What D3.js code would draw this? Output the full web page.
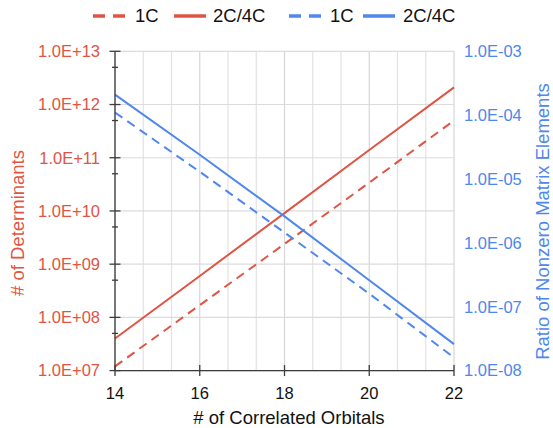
<!DOCTYPE html>
<html>
<head>
<meta charset="utf-8">
<script src="https://cdn.jsdelivr.net/npm/d3@7"></script>
<style>
  html, body { margin: 0; padding: 0; background: #fff; }
  svg { display: block; font-family: "Liberation Sans", Arial, sans-serif; }
</style>
</head>
<body>
<svg id="chart" width="553" height="428"></svg>
<script>
// Active space size (number of correlated orbitals)
const orbitals = [14, 16, 18, 20, 22];

// Number of determinants (left axis)
const det1C    = [1.2e7, 1.7e8, 2.4e9, 3.4e10, 5.0e11];
const det2C4C  = [4.0e7, 6.0e8, 9.1e9, 1.4e11, 2.1e12];

// Ratio of nonzero Hamiltonian matrix elements (right axis)
const ratio1C   = [1.1e-4, 1.3e-5, 1.45e-6, 1.6e-7, 1.6e-8];
const ratio2C4C = [2.1e-4, 2.4e-5, 2.6e-6, 2.6e-7, 2.6e-8];

// Tick values and labels
const xTicks = [14, 16, 18, 20, 22];
const leftTicks = [1e7, 1e8, 1e9, 1e10, 1e11, 1e12, 1e13];
const leftTickLabels = ["1.0E+07", "1.0E+08", "1.0E+09", "1.0E+10", "1.0E+11", "1.0E+12", "1.0E+13"];
const rightTicks = [1e-8, 1e-7, 1e-6, 1e-5, 1e-4, 1e-3];
const rightTickLabels = ["1.0E-08", "1.0E-07", "1.0E-06", "1.0E-05", "1.0E-04", "1.0E-03"];

const legendLabels = ["1C", "2C/4C", "1C", "2C/4C"];

const RED = "#df5443";
const BLUE = "#4f87ec";
const AXIS = "#3c3c3c";
const GRID = "#e2e2e2";

const svg = d3.select("#chart");
const plotLeft = 115, plotRight = 454, plotTop = 51.3, plotBottom = 370.6;

const x = d3.scaleLinear().domain([14, 22]).range([plotLeft, plotRight]);
const yL = d3.scaleLog().domain([1e7, 1e13]).range([plotBottom, plotTop]);
const yR = d3.scaleLog().domain([1e-8, 1e-3]).range([plotBottom, plotTop]);

// Vertical gridlines every 2/3 of a unit
const gridX = d3.range(0, 13).map(i => 14 + i * 8 / 12);
svg.append("g").selectAll("line").data(gridX).join("line")
  .attr("x1", d => x(d)).attr("x2", d => x(d))
  .attr("y1", plotTop).attr("y2", plotBottom)
  .attr("stroke", (d, i) => i % 3 === 0 ? "#d6d6d6" : GRID)
  .attr("stroke-width", 1.2);

// Horizontal gridlines at each decade
svg.append("g").selectAll("line").data(leftTicks).join("line")
  .attr("x1", plotLeft).attr("x2", plotRight)
  .attr("y1", d => yL(d)).attr("y2", d => yL(d))
  .attr("stroke", "#dcdcdc").attr("stroke-width", 1.2);

// Series
const series = [
  { vals: det1C, y: yL, color: RED, dash: "9,6" },
  { vals: det2C4C, y: yL, color: RED, dash: null },
  { vals: ratio1C, y: yR, color: BLUE, dash: "9,6" },
  { vals: ratio2C4C, y: yR, color: BLUE, dash: null }
];
series.forEach(s => {
  const line = d3.line().x((d, i) => x(orbitals[i])).y(d => s.y(d));
  svg.append("path")
    .attr("d", line(s.vals))
    .attr("fill", "none")
    .attr("stroke", s.color)
    .attr("stroke-width", 2)
    .attr("stroke-dasharray", s.dash);
});

// Left axis line and ticks (crossing the spine)
svg.append("line").attr("x1", plotLeft).attr("x2", plotLeft).attr("y1", plotTop).attr("y2", plotBottom)
  .attr("stroke", AXIS).attr("stroke-width", 1.3);
svg.append("g").selectAll("line").data(leftTicks).join("line")
  .attr("x1", plotLeft - 5.5).attr("x2", plotLeft + 5.5)
  .attr("y1", d => yL(d)).attr("y2", d => yL(d))
  .attr("stroke", AXIS).attr("stroke-width", 1.3);
const minorTicks = leftTicks.slice(0, -1).map(d => d * 5);
svg.append("g").selectAll("line").data(minorTicks).join("line")
  .attr("x1", plotLeft - 3).attr("x2", plotLeft + 3)
  .attr("y1", d => yL(d)).attr("y2", d => yL(d))
  .attr("stroke", AXIS).attr("stroke-width", 1.3);

// Bottom axis line and ticks
svg.append("line").attr("x1", plotLeft).attr("x2", plotRight).attr("y1", plotBottom).attr("y2", plotBottom)
  .attr("stroke", AXIS).attr("stroke-width", 1.3);
svg.append("g").selectAll("line").data(xTicks).join("line")
  .attr("x1", d => x(d)).attr("x2", d => x(d))
  .attr("y1", plotBottom - 5.5).attr("y2", plotBottom + 5.5)
  .attr("stroke", AXIS).attr("stroke-width", 1.3);

// Tick labels
svg.append("g").selectAll("text").data(leftTicks).join("text")
  .attr("x", 100).attr("y", d => yL(d)).attr("dy", "0.35em")
  .attr("text-anchor", "end").attr("fill", RED).attr("font-size", 16.5)
  .text((d, i) => leftTickLabels[i]);
svg.append("g").selectAll("text").data(rightTicks).join("text")
  .attr("x", 464).attr("y", d => yR(d)).attr("dy", "0.35em")
  .attr("text-anchor", "start").attr("fill", BLUE).attr("font-size", 16.5)
  .text((d, i) => rightTickLabels[i]);
svg.append("g").selectAll("text").data(xTicks).join("text")
  .attr("x", d => x(d)).attr("y", 393.5).attr("dy", "0.35em")
  .attr("text-anchor", "middle").attr("fill", "#111").attr("font-size", 16.5)
  .text(d => d);

// Axis titles
svg.append("text").attr("x", 289).attr("y", 417.5).attr("dy", "0.35em")
  .attr("text-anchor", "middle").attr("fill", "#111").attr("font-size", 18.5)
  .text("# of Correlated Orbitals");
svg.append("text")
  .attr("transform", "translate(17.5,223) rotate(-90)")
  .attr("dy", "0.35em").attr("text-anchor", "middle")
  .attr("fill", RED).attr("font-size", 18.5)
  .text("# of Determinants");
svg.append("text")
  .attr("transform", "translate(542.5,221.5) rotate(-90)")
  .attr("dy", "0.35em").attr("text-anchor", "middle")
  .attr("fill", BLUE).attr("font-size", 18.5)
  .text("Ratio of Nonzero Matrix Elements");

// Legend
const legendItems = [
  { sx: 93, tx: 135, color: RED, dash: "12,8" },
  { sx: 174, tx: 213, color: RED, dash: null },
  { sx: 289, tx: 330, color: BLUE, dash: "12,8" },
  { sx: 363, tx: 403, color: BLUE, dash: null }
];
const lg = svg.append("g");
legendItems.forEach((it, i) => {
  lg.append("line")
    .attr("x1", it.sx).attr("x2", it.sx + 32)
    .attr("y1", 16).attr("y2", 16)
    .attr("stroke", it.color).attr("stroke-width", 3.5)
    .attr("stroke-dasharray", it.dash);
  lg.append("text")
    .attr("x", it.tx).attr("y", 16).attr("dy", "0.35em")
    .attr("fill", "#111").attr("font-size", 18.5)
    .text(legendLabels[i]);
});
</script>
</body>
</html>
